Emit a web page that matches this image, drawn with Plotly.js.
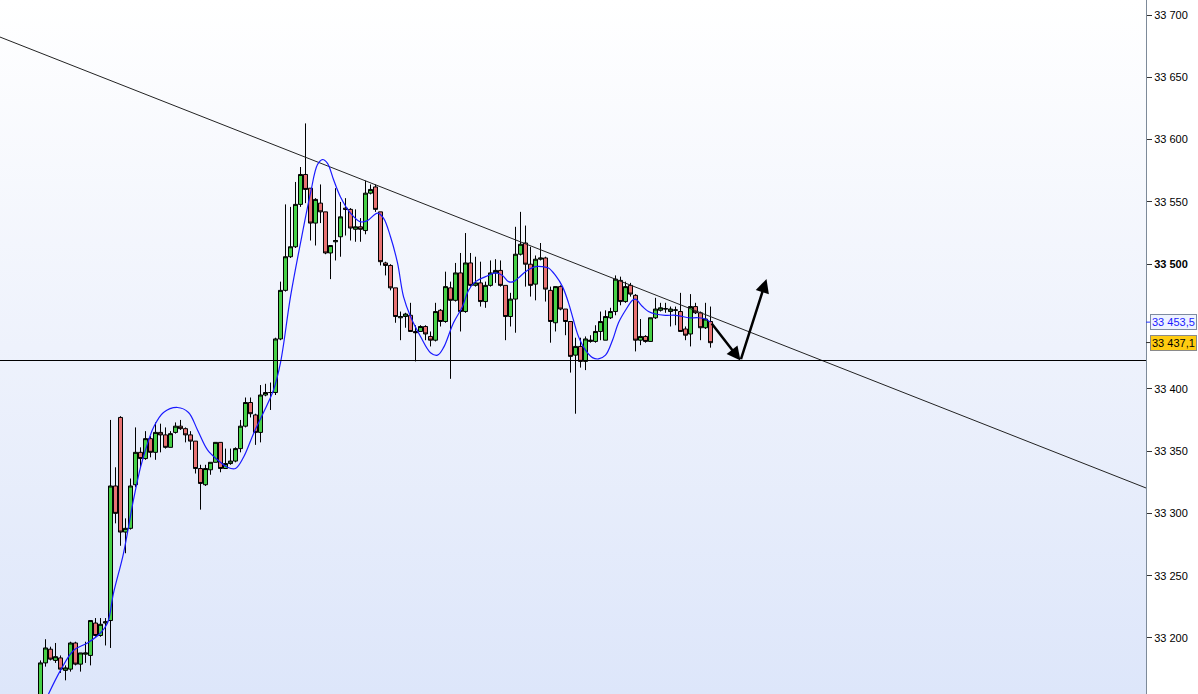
<!DOCTYPE html>
<html>
<head>
<meta charset="utf-8">
<script src="https://cdn.plot.ly/plotly-3.0.1.min.js"></script>
<style>
  html, body { margin: 0; padding: 0; background: #ffffff; overflow: hidden; }
  #bg { position: absolute; left: 0; top: 0; width: 1146px; height: 694px;
        background: linear-gradient(to bottom, #ffffff 0%, #eef2fc 50%, #dde6fa 100%); }
  #chart { position: absolute; left: 0; top: 0; width: 1198px; height: 694px; }
</style>
</head>
<body>
<div id="bg"></div>
<div id="chart"></div>
<script>
// ---- candle data (index 0..134) ----
const opens = [33140,33180,33191,33182,33184,33174,33175,33196,33179,33187,
  33186,33212,33202,33212,33214,33322,33377,33285,33288,33323,
  33349,33344,33360,33349,33365,33363,33353,33365,33370,33368,
  33363,33358,33336,33323,33335,33341,33357,33336,33340,33342,
  33352,33370,33389,33379,33365,33395,33397,33397,33440,33479,
  33506,33514,33548,33572,33561,33533,33549,33542,33509,33518,
  33522,33545,33544,33528,33530,33527,33557,33562,33542,33501,
  33499,33481,33457,33458,33459,33446,33446,33450,33442,33439,
  33463,33454,33481,33471,33493,33462,33501,33483,33485,33470,
  33483,33493,33495,33483,33458,33472,33508,33517,33500,33484,
  33504,33505,33479,33453,33482,33464,33454,33427,33434,33422,
  33438,33438,33446,33439,33457,33462,33487,33470,33483,33475,
  33439,33442,33438,33457,33463,33464,33462,33463,33462,33448,
  33444,33466,33461,33449,33454];
const highs = [33182,33199,33193,33196,33186,33178,33197,33197,33188,33197,
  33214,33216,33216,33216,33375,33337,33378,33296,33328,33369,
  33353,33366,33362,33373,33372,33369,33366,33373,33375,33369,
  33366,33358,33339,33339,33341,33357,33357,33352,33352,33353,
  33375,33393,33393,33380,33403,33404,33405,33441,33486,33548,
  33546,33566,33578,33613,33561,33553,33564,33542,33515,33561,
  33550,33553,33545,33544,33537,33567,33564,33564,33542,33502,
  33500,33481,33462,33461,33469,33451,33451,33451,33446,33469,
  33464,33494,33486,33501,33509,33525,33509,33506,33502,33486,
  33503,33504,33503,33483,33477,33530,33542,33531,33514,33507,
  33517,33506,33482,33482,33483,33464,33454,33441,33441,33442,
  33443,33451,33462,33463,33465,33491,33490,33486,33485,33476,
  33456,33443,33457,33473,33469,33469,33466,33466,33477,33450,
  33476,33469,33462,33469,33466];
const lows = [33135,33177,33182,33180,33172,33166,33173,33178,33173,33180,
  33178,33201,33201,33194,33192,33292,33274,33268,33287,33321,
  33337,33343,33345,33343,33349,33352,33353,33364,33367,33357,
  33351,33332,33303,33322,33331,33341,33333,33336,33339,33341,
  33349,33369,33377,33355,33357,33394,33383,33395,33439,33478,
  33505,33513,33546,33549,33519,33515,33533,33508,33488,33503,
  33506,33523,33519,33518,33518,33524,33556,33542,33499,33491,
  33479,33453,33439,33449,33446,33422,33446,33439,33434,33438,
  33450,33453,33408,33470,33446,33461,33482,33482,33466,33465,
  33482,33485,33482,33439,33450,33445,33507,33482,33474,33471,
  33503,33470,33437,33446,33463,33443,33413,33380,33417,33415,
  33437,33437,33439,33439,33456,33459,33467,33469,33474,33430,
  33435,33437,33438,33456,33462,33461,33450,33451,33446,33439,
  33434,33460,33439,33448,33433];
const closes = [33180,33192,33183,33185,33175,33176,33196,33179,33188,33188,
  33214,33202,33211,33213,33322,33300,33285,33288,33322,33349,
  33344,33360,33349,33365,33363,33353,33364,33370,33368,33363,
  33358,33336,33324,33336,33341,33357,33336,33340,33342,33352,
  33370,33389,33380,33365,33395,33397,33397,33440,33479,33506,
  33514,33548,33572,33560,33533,33552,33542,33509,33515,33519,
  33538,33544,33529,33530,33528,33557,33560,33544,33502,33499,
  33481,33458,33458,33460,33446,33445,33450,33444,33439,33462,
  33454,33482,33471,33493,33462,33501,33483,33485,33470,33483,
  33493,33495,33483,33458,33472,33508,33516,33500,33483,33504,
  33505,33480,33454,33482,33464,33454,33426,33434,33422,33440,
  33439,33446,33454,33458,33462,33488,33470,33482,33476,33439,
  33442,33438,33457,33464,33465,33464.3,33464,33463.3,33446,33443,
  33466,33461,33449,33456,33437];

// ---- smoothed average (blue line) ----
const maX = [1.6,4,6.6,9.4,12,13.4,14.6,16.6,18.6,20,21.4,22.6,24.6,27.4,29.6,31.4,33.4,35.4,37.4,39,
  40.6,42.6,44.6,46.6,48,50,52,54,55.4,56.4,57.4,58.6,60,62,64,65.4,67.4,68.6,70,71.4,
  72.6,74,76,78,79.4,80.6,82.6,84.4,85.6,87,89,91,92.4,93.6,94.6,95.6,97,99,100.4,101.6,
  103,104.4,105.6,106.6,107.6,109,110.4,111.6,113,114.4,115.6,117,118.4,119,120.4,121.6,123,125,127,128.4,
  129.6,131.6,133,134];
const maY = [33155,33174,33190,33196,33204,33212,33236,33268,33311,33337,33356,33369,33381,33385,33381,33367,33351,33343,33337,33336,
  33345,33364,33381,33399,33421,33474,33517,33557,33580,33584,33581,33568,33554,33541,33534,33535,33541,33537,33522,33501,
  33474,33458,33442,33429,33427,33433,33453,33466,33479,33486,33490,33493,33491,33486,33486,33489,33494,33498,33498,33497,
  33491,33482,33469,33455,33442,33431,33425,33424,33427,33439,33453,33463,33471,33472,33466,33462,33460,33459,33459,33458,
  33457,33457,33456,33453.5];

// ---- drawings ----
const trendX = [-8.1, 221.1];
const trendY = [33682.3, 33320.4];
const supportLevel = 33422.7;
const arrowX = [134, 140, 145.2];
const arrowY = [33453.6, 33422.7, 33488.1];

// ---- axis ----
const tickVals = [33200, 33250, 33300, 33350, 33400, 33500, 33550, 33600, 33650, 33700];
const tickText = ['33 200', '33 250', '33 300', '33 350', '33 400', '<b>33 500</b>', '33 550', '33 600', '33 650', '33 700'];
const maLabel = '33 453,5';
const maValue = 33453.5;
const lastLabel = '33 437,1';
const lastValue = 33437.1;

const idx = opens.map((_, i) => i);

const candles = {
  type: 'candlestick',
  x: idx, open: opens, high: highs, low: lows, close: closes,
  increasing: { line: { color: '#000000', width: 1 }, fillcolor: '#46d046' },
  decreasing: { line: { color: '#000000', width: 1 }, fillcolor: '#e87272' },
  whiskerwidth: 0,
  hoverinfo: 'skip',
  showlegend: false
};
const ma = {
  type: 'scatter', mode: 'lines', x: maX, y: maY,
  line: { color: '#1a1aff', width: 1.2, shape: 'spline', smoothing: 1 },
  hoverinfo: 'skip', showlegend: false
};
const trend = {
  type: 'scatter', mode: 'lines', x: trendX, y: trendY,
  line: { color: '#222222', width: 1 }, hoverinfo: 'skip', showlegend: false
};

const layout = {
  width: 1198, height: 694,
  margin: { l: 0, r: 52, t: 0, b: 0, pad: 0 },
  paper_bgcolor: 'rgba(0,0,0,0)',
  plot_bgcolor: 'rgba(0,0,0,0)',
  separators: ', ',
  boxgap: 0.2,
  boxgroupgap: 0,
  font: { family: 'Liberation Sans, Arial, sans-serif', size: 11, color: '#000000' },
  showlegend: false,
  xaxis: {
    range: [-8.1, 221.1], visible: false, rangeslider: { visible: false },
    showgrid: false, zeroline: false
  },
  yaxis: {
    side: 'right', range: [33155.04, 33712.04],
    tickvals: tickVals, ticktext: tickText,
    ticks: 'outside', ticklen: 5, tickcolor: '#333333',
    showline: true, linecolor: '#7d8a99', linewidth: 1,
    showgrid: false, zeroline: false,
    tickfont: { family: 'Liberation Sans, Arial, sans-serif', size: 11, color: '#000000' }
  },
  shapes: [
    { type: 'line', xref: 'paper', x0: 0, x1: 1, yref: 'y', y0: supportLevel, y1: supportLevel,
      line: { color: '#000000', width: 1 } },
    { type: 'line', xref: 'paper', x0: 1, x1: 1.0045, yref: 'y', y0: maValue, y1: maValue,
      line: { color: '#2233ff', width: 1 } },
    { type: 'line', xref: 'paper', x0: 1, x1: 1.0045, yref: 'y', y0: lastValue, y1: lastValue,
      line: { color: '#333333', width: 1 } }
  ],
  annotations: [
    { x: arrowX[1], y: arrowY[1], ax: arrowX[0], ay: arrowY[0], xref: 'x', yref: 'y', axref: 'x', ayref: 'y',
      showarrow: true, arrowhead: 2, arrowsize: 1.1, arrowwidth: 2.5, arrowcolor: '#000000', text: '', standoff: 0 },
    { x: arrowX[2], y: arrowY[2], ax: arrowX[1], ay: arrowY[1], xref: 'x', yref: 'y', axref: 'x', ayref: 'y',
      showarrow: true, arrowhead: 2, arrowsize: 1.1, arrowwidth: 2.5, arrowcolor: '#000000', text: '', standoff: 0 },
    { xref: 'paper', x: 1, xanchor: 'left', xshift: 4, yref: 'y', y: maValue, yanchor: 'middle',
      text: maLabel, showarrow: false, font: { color: '#1a1aff', size: 11, family: 'Liberation Sans, Arial, sans-serif' },
      bgcolor: '#eef3ff', bordercolor: '#7d8aa0', borderwidth: 1, borderpad: 1 },
    { xref: 'paper', x: 1, xanchor: 'left', xshift: 4, yref: 'y', y: lastValue, yanchor: 'middle',
      text: lastLabel, showarrow: false, font: { color: '#000000', size: 11, family: 'Liberation Sans, Arial, sans-serif' },
      bgcolor: '#ffcc11', bordercolor: '#8a8a8a', borderwidth: 1, borderpad: 1 }
  ]
};

Plotly.newPlot('chart', [trend, candles, ma], layout, { displayModeBar: false, staticPlot: true });
</script>
</body>
</html>
